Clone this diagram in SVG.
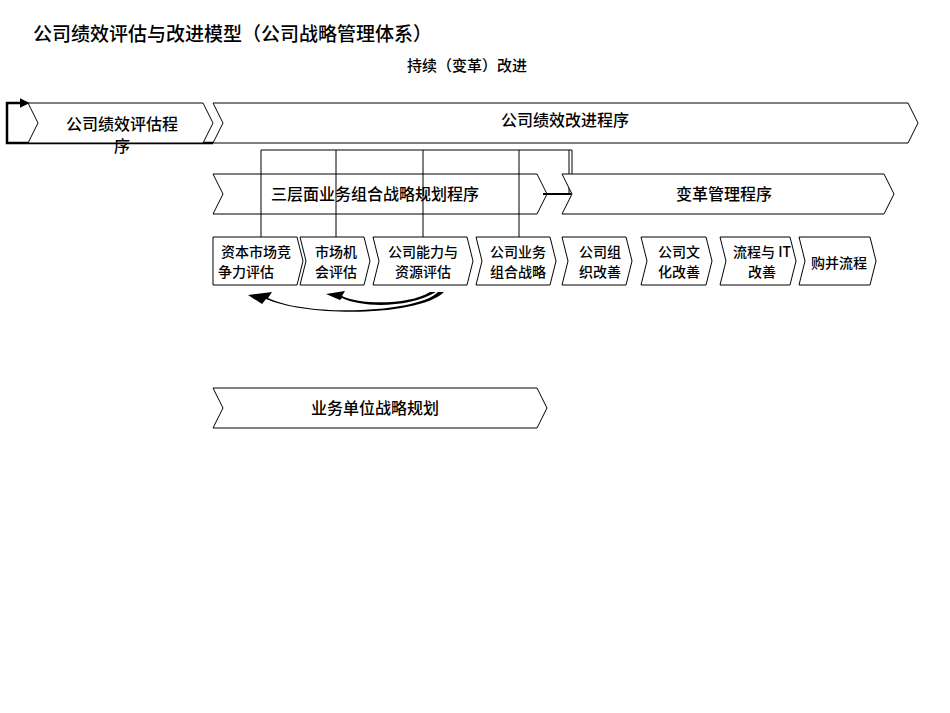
<svg xmlns="http://www.w3.org/2000/svg" width="950" height="713" viewBox="0 0 950 713">
<style>
.c{fill:#fff;stroke:#000;stroke-width:1}
.t{font-family:"Noto Sans CJK SC","Liberation Sans",sans-serif;fill:#000;text-anchor:middle;font-weight:500}
.l{fill:none;stroke:#000;stroke-width:1}
</style>
<defs><marker id="ah" markerWidth="4" markerHeight="4" refX="3" refY="2" orient="auto" markerUnits="strokeWidth"><path d="M0,0L4,2L0,4z"/></marker></defs>
<rect width="950" height="713" fill="#fff"/>
<text x="33" y="41" font-size="19" font-family="Noto Sans CJK SC,sans-serif" font-weight="500">公司绩效评估与改进模型（公司战略管理体系）</text>
<text class="t" x="467" y="71" font-size="15">持续（变革）改进</text>
<g id="connectors">
<path class="l" d="M261,237V150H572V194M336,150V237M423,150V237M519,150V237M569,150V194"/>
<path d="M543,194H571" stroke="#000" stroke-width="2"/>
<path d="M213,143H7V103H27" fill="none" stroke="#000" stroke-width="2.5" marker-end="url(#ah)"/>
<path d="M438,292C420,312 310,318 268,298L272,292L248,295L262,304L266,299C310,318 420,316 444,292Z"/>
<path d="M430,292C410,305 360,305 342,296L345,291L326,294L340,300L342,298C362,308 410,308 436,292Z"/>
</g>
<g id="n1"><path class="c" d="M28,103H203L213,123L203,143H28L38,123Z"/><text class="t" x="122" y="130" font-size="16">公司绩效评估程</text><text class="t" x="122" y="152" font-size="16">序</text></g>
<g id="n2"><path class="c" d="M213,103H908L918,123L908,143H213L223,123Z"/><text class="t" x="565" y="126" font-size="16">公司绩效改进程序</text></g>
<g id="n3"><path class="c" d="M213,174H537L547,194L537,214H213L223,194Z" fill-opacity="0"/><text class="t" x="375" y="200" font-size="16">三层面业务组合战略规划程序</text></g>
<g id="n4"><path class="c" d="M562,174H884L894,194L884,214H562L572,194Z"/><text class="t" x="724" y="200" font-size="16">变革管理程序</text></g>
<g id="n5"><path class="c" d="M213,237H297L303,261L297,285H213Z"/><text class="t" x="256" y="257" font-size="14">资本市场竞</text><text class="t" x="246" y="277" font-size="14">争力评估</text></g>
<g id="n6"><path class="c" d="M300,237H364L370,261L364,285H300L306,261Z"/><text class="t" x="336" y="257" font-size="14">市场机</text><text class="t" x="336" y="277" font-size="14">会评估</text></g>
<g id="n7"><path class="c" d="M373,237H467L473,261L467,285H373L379,261Z"/><text class="t" x="423" y="257" font-size="14">公司能力与</text><text class="t" x="423" y="277" font-size="14">资源评估</text></g>
<g id="n8"><path class="c" d="M476,237H550L556,261L550,285H476L482,261Z"/><text class="t" x="518" y="257" font-size="14">公司业务</text><text class="t" x="518" y="277" font-size="14">组合战略</text></g>
<g id="n9"><path class="c" d="M562,237H626L632,261L626,285H562L568,261Z"/><text class="t" x="600" y="257" font-size="14">公司组</text><text class="t" x="600" y="277" font-size="14">织改善</text></g>
<g id="n10"><path class="c" d="M641,237H706L712,261L706,285H641L647,261Z"/><text class="t" x="679" y="257" font-size="14">公司文</text><text class="t" x="679" y="277" font-size="14">化改善</text></g>
<g id="n11"><path class="c" d="M720,237H790L796,261L790,285H720L726,261Z"/><text class="t" x="762" y="257" font-size="14">流程与 IT</text><text class="t" x="762" y="277" font-size="14">改善</text></g>
<g id="n12"><path class="c" d="M799,237H870L876,261L870,285H799L805,261Z"/><text class="t" x="839" y="268" font-size="14">购并流程</text></g>
<g id="n13"><path class="c" d="M213,388H537L547,408L537,428H213L223,408Z"/><text class="t" x="375" y="414" font-size="16">业务单位战略规划</text></g>
</svg>
